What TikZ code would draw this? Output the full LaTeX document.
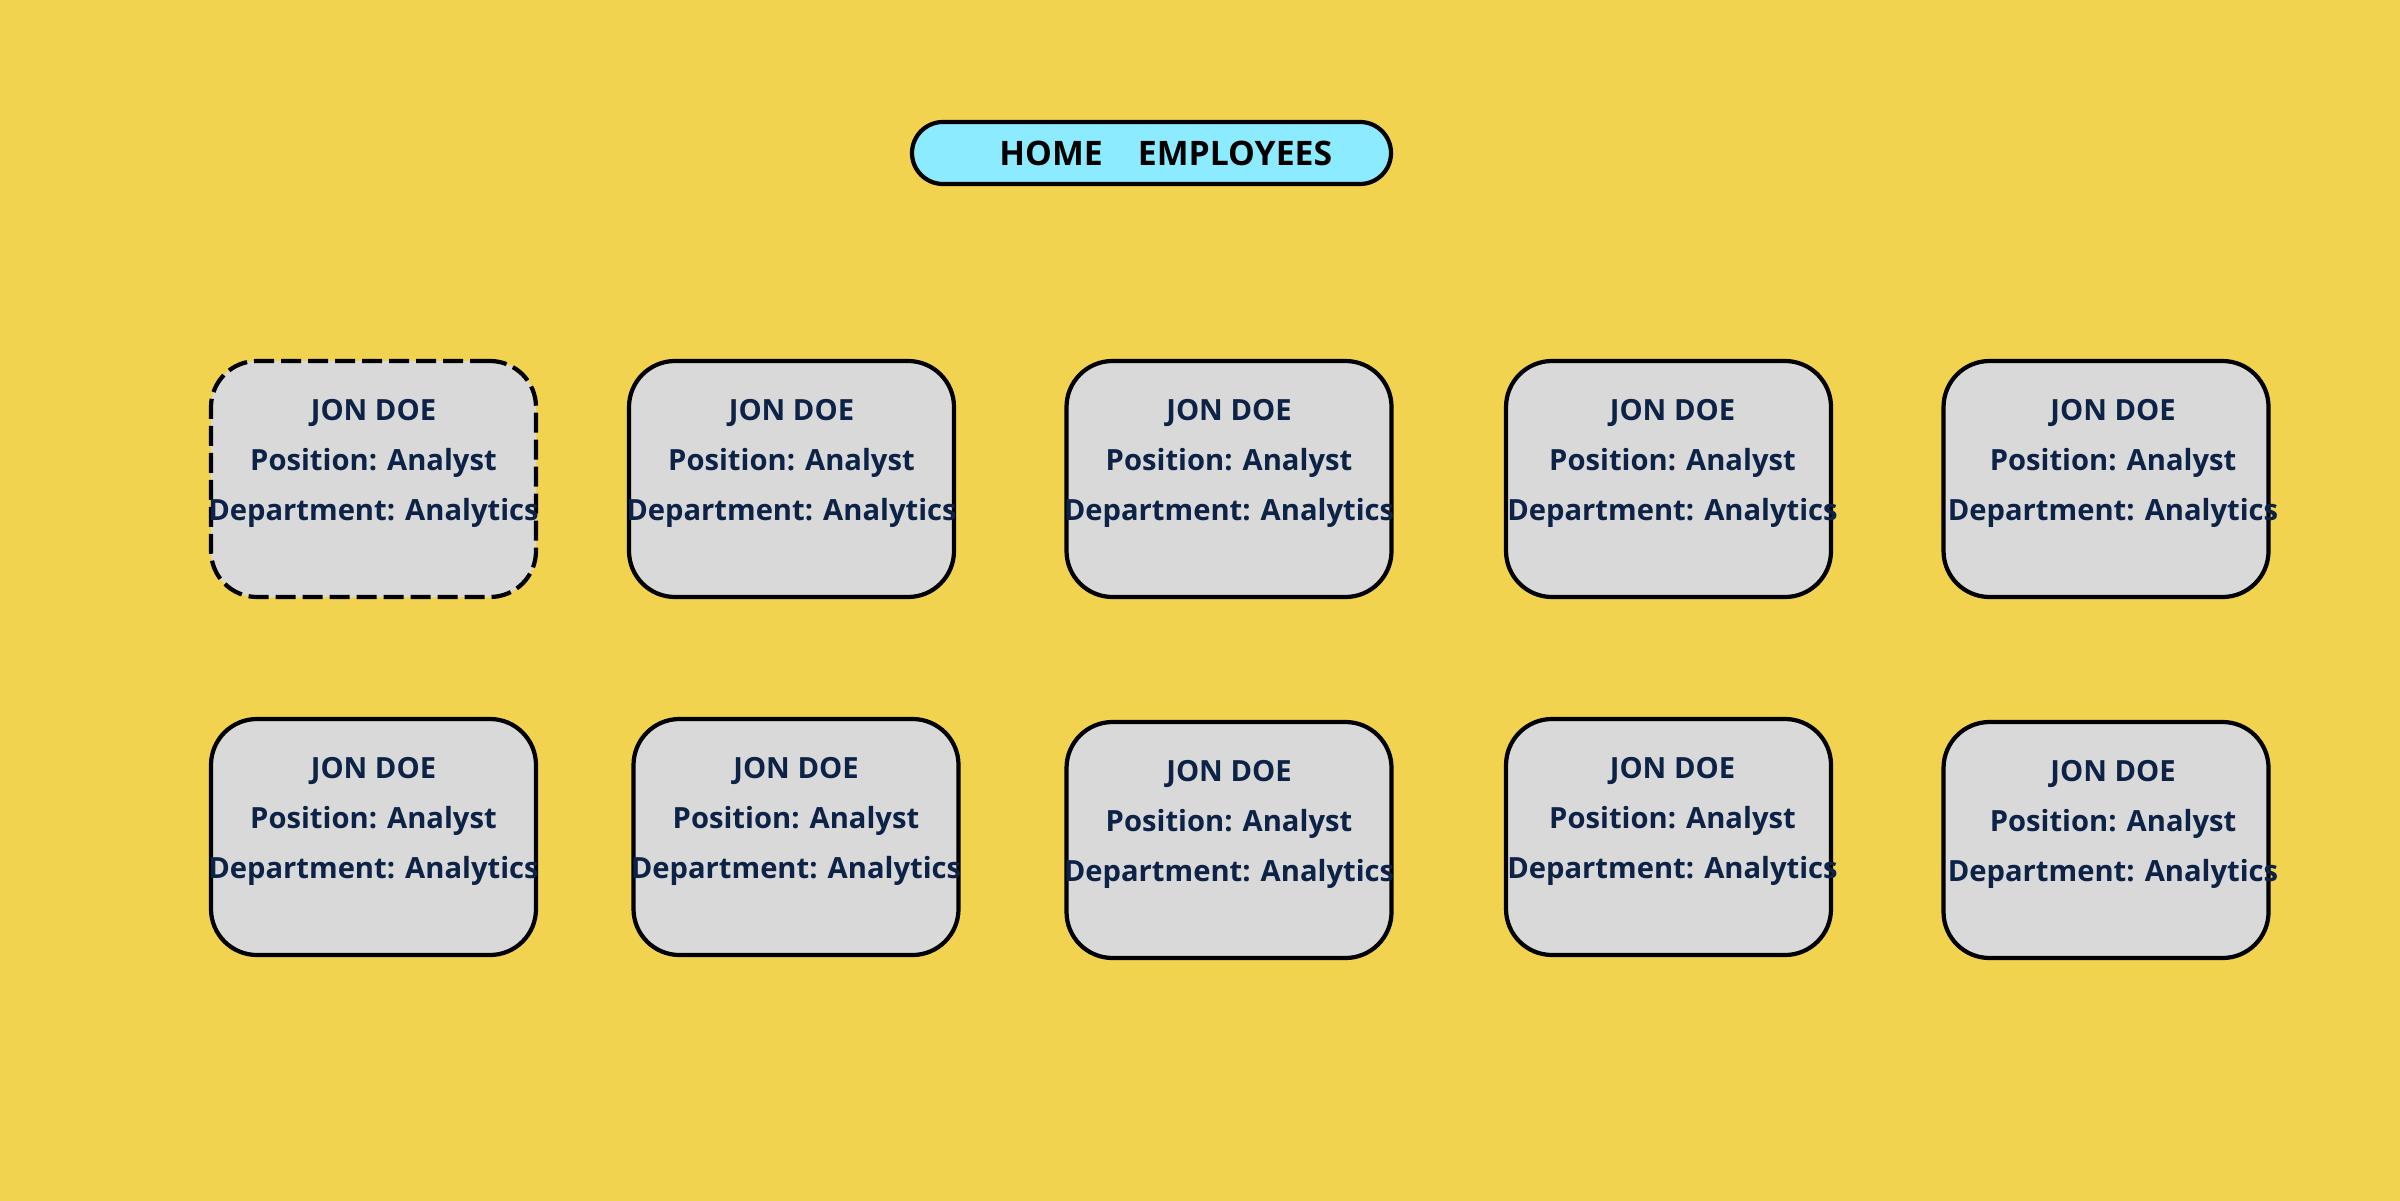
\documentclass[tikz,border=0pt]{standalone}
\usepackage{fontspec}
\setmainfont{Open Sans}
\definecolor{bgyellow}{HTML}{F1D34F}
\definecolor{cardgray}{HTML}{D9D9D9}
\definecolor{navcyan}{HTML}{8CEBFE}
\definecolor{navy}{HTML}{0C2246}
\def\cardwidth{3.25cm}
\def\cardheight{2.36cm}

\begin{document}
\begin{tikzpicture}[line width=1.2pt]
    \tikzstyle{card}=[rectangle,rounded corners=0.46cm,draw=black,fill=cardgray,minimum width=\cardwidth,minimum height=\cardheight,inner sep=0pt]
    \tikzstyle{selected card}=[card,dash pattern=on 0.2cm off 0.07cm]
    \tikzstyle{info}=[text=navy,font=\fontsize{8.3}{14.2}\selectfont\bfseries,align=center,inner sep=0pt]
    \tikzstyle{menu}=[rectangle,rounded corners=0.31cm,draw=black,fill=navcyan,minimum width=4.79cm,minimum height=0.62cm,inner sep=0pt]
    \tikzstyle{menu item}=[font=\fontsize{9.6}{11}\selectfont\bfseries,inner sep=0pt]

    % Background
    \useasboundingbox (0,0) rectangle (24,12);
    \fill[bgyellow] (-0.1,-0.1) rectangle (24.1,12.1);

    % Draw the menu bar
    \node[menu] (M) at (11.515,10.47) {};
    \node[menu item] (M-home) at (10.51,10.47) {HOME};
    \node[menu item] (M-emp) at (12.35,10.47) {EMPLOYEES};

    % Draw the first row of cards
    \node[selected card] (A-1) at (3.735,7.21) {};
    \foreach \name / \x in {2/7.915,3/12.29,4/16.685,5/21.06}
        \node[card] (A-\name) at (\x,7.21) {};

    % Draw the second row of cards
    \foreach \name / \x / \y in {1/3.735/3.63,2/7.96/3.63,3/12.29/3.60,4/16.685/3.63,5/21.06/3.60}
        \node[card] (B-\name) at (\x,\y) {};

    % Fill in the employee details
    \foreach \row in {A,B}
        \foreach \name / \dx in {1/0,2/0,3/0,4/0.04,5/0.07}
            \node[info,yshift=0.155cm,xshift=\dx cm] (\row-\name-txt) at (\row-\name)
                {JON DOE\\Position: Analyst\\Department: Analytics};
\end{tikzpicture}
\end{document}
